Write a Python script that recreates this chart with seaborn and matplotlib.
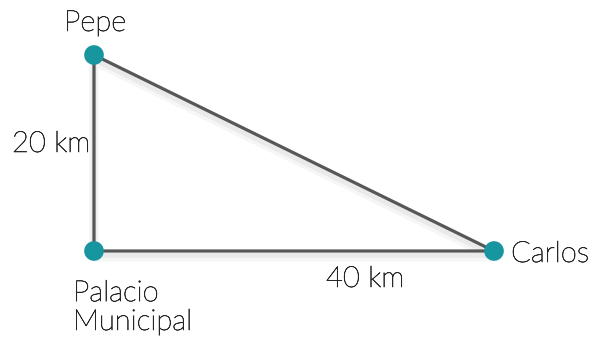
import matplotlib
matplotlib.use("Agg")
import matplotlib.pyplot as plt
import matplotlib.patheffects as pe
import seaborn as sns
import pandas as pd

sns.set_theme(style="white")
plt.rcParams['font.family'] = ['Lato', 'DejaVu Sans']

# data (km)
names = ["Pepe", "Palacio\nMunicipal", "Carlos"]
xs = [0, 0, 40]
ys = [20, 0, 0]
dist_labels = ["20 km", "40 km"]

pts = pd.DataFrame({"name": names, "x": xs, "y": ys})
path = pd.DataFrame({"x": [xs[0], xs[1], xs[2], xs[0]],
                     "y": [ys[0], ys[1], ys[2], ys[0]],
                     "o": [0, 1, 2, 3]})

fig = plt.figure(figsize=(5.94, 3.37), dpi=100)
ax = fig.add_axes([0, 0, 1, 1])
ax.set_xlim(-9.4, 50.0)
ax.set_ylim(-8.776, 25.61)
ax.axis("off")

line_col = "#575757"
pt_col = "#17969f"

sns.lineplot(data=path, x="x", y="y", sort=False, estimator=None, ax=ax,
             color=line_col, linewidth=2.3, zorder=2,
             path_effects=[pe.SimpleLineShadow(offset=(0, -4), shadow_color="k", alpha=0.04, linewidth=7),
                           pe.SimpleLineShadow(offset=(0, -3), shadow_color="k", alpha=0.05, linewidth=4),
                           pe.Normal()])
sns.scatterplot(data=pts, x="x", y="y", ax=ax, color=pt_col, s=200,
                edgecolor="none", zorder=3, legend=False)

fs = 21
txt_col = "#262626"
kw = dict(textcoords="offset pixels", fontsize=fs, fontweight="light", color=txt_col,
          path_effects=[pe.withStroke(linewidth=0.45, foreground=txt_col)])
ax.annotate(names[0], (xs[0], ys[0]), xytext=(1, 24), ha="center", va="baseline", **kw)
ax.annotate(names[1], (xs[1], ys[1]), xytext=(-21, -79), ha="left", va="baseline",
            linespacing=1.13, **kw)
ax.annotate(names[2], (xs[2], ys[2]), xytext=(17, -11), ha="left", va="baseline", **kw)
ax.annotate(dist_labels[0], ((xs[0] + xs[1]) / 2, (ys[0] + ys[1]) / 2), xytext=(-4, 1),
            ha="right", va="baseline", **kw)
ax.annotate(dist_labels[1], ((xs[1] + xs[2]) / 2, (ys[1] + ys[2]) / 2), xytext=(71, -36),
            ha="center", va="baseline", **kw)

fig.savefig("out.png", dpi=100)
